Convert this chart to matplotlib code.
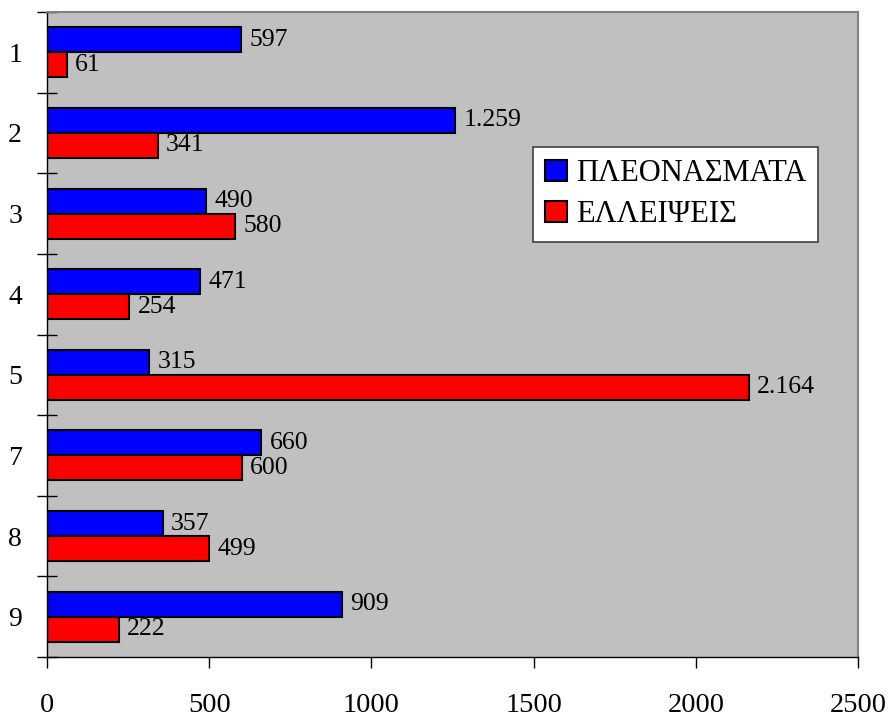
import matplotlib
matplotlib.use("Agg")
import matplotlib.pyplot as plt
import numpy as np

categories = ["1", "2", "3", "4", "5", "7", "8", "9"]
surplus = [597, 1259, 490, 471, 315, 660, 357, 909]
deficit = [61, 341, 580, 254, 2164, 600, 499, 222]
xticks = [0, 500, 1000, 1500, 2000, 2500]
series_names = ["ΠΛΕΟΝΑΣΜΑΤΑ", "ΕΛΛΕΙΨΕΙΣ"]

plt.rcParams['font.family'] = ['Liberation Serif', 'DejaVu Serif']

fig = plt.figure(figsize=(8.89, 7.2), dpi=100)
ax = fig.add_axes([47/889, 1 - 657/720, (858 - 47)/889, (657 - 12)/720])
ax.set_facecolor('#C0C0C0')

y = np.arange(len(categories))
h = 0.31
b1 = ax.barh(y - h/2, surplus, height=h, color='#0000FF', edgecolor='black', linewidth=1.5, label=series_names[0])
b2 = ax.barh(y + h/2, deficit, height=h, color='#FF0000', edgecolor='black', linewidth=1.5, label=series_names[1])

def fmt(v):
    return f"{v:,}".replace(",", ".")

for bars, vals in ((b1, surplus), (b2, deficit)):
    for rect, v in zip(bars, vals):
        ax.annotate(fmt(v), (rect.get_width(), rect.get_y() + rect.get_height()/2),
                    xytext=(6, 0), textcoords='offset points', va='center', ha='left', fontsize=18.5)

ax.set_xlim(0, 2500)
ax.set_ylim(len(categories) - 0.5, -0.5)
ax.set_xticks(xticks)
ax.set_xticklabels([str(t) for t in xticks], fontsize=20.5)
ax.tick_params(axis='x', direction='out', length=8, width=1, pad=18)

ax.set_yticks(y)
ax.set_yticklabels(categories, fontsize=20)
ax.tick_params(axis='y', which='major', length=0, pad=18)
ax.set_yticks(np.arange(len(categories) + 1) - 0.5, minor=True)
ax.tick_params(axis='y', which='minor', direction='inout', length=14, width=1)

for s in ('left', 'bottom'):
    ax.spines[s].set_color('black')
    ax.spines[s].set_linewidth(1)
for s in ('top', 'right'):
    ax.spines[s].set_color('#808080')
    ax.spines[s].set_linewidth(1.5)

leg = ax.legend(loc='upper left', bbox_to_anchor=((533-47)/811, 1 - (147-12)/645),
                fontsize=22, frameon=True, fancybox=False, edgecolor='#404040',
                framealpha=1, borderpad=0.4, handlelength=0.7, handleheight=0.7,
                handletextpad=0.3, labelspacing=0.4, borderaxespad=0)
leg.get_frame().set_linewidth(1.2)

fig.savefig("out.png", dpi=100)
